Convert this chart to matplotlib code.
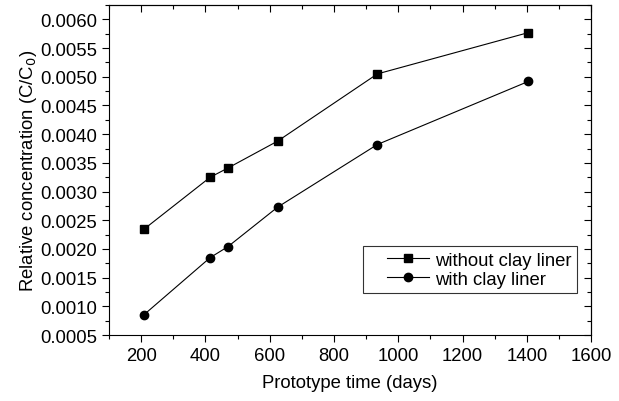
import matplotlib.pyplot as plt
import numpy as np
from matplotlib.ticker import MultipleLocator, FormatStrFormatter
from matplotlib.legend_handler import HandlerLine2D
from matplotlib.lines import Line2D

plt.rcParams['font.family'] = ['Liberation Sans', 'DejaVu Sans']

# data
time_days = [208, 415, 470, 625, 935, 1405]
without_liner = [0.00234, 0.00325, 0.00341, 0.00388, 0.00505, 0.00577]
with_liner = [0.00085, 0.00185, 0.00204, 0.00273, 0.00382, 0.00492]

fs = 13.3

fig = plt.figure(figsize=(6.19, 4.02), dpi=100)
ax = fig.add_axes([0.176, 0.164, 0.779, 0.821])

ax.plot(time_days, without_liner, color='black', lw=0.8, marker='s', markersize=5.5,
        label='without clay liner')
ax.plot(time_days, with_liner, color='black', lw=0.8, marker='o', markersize=6,
        label='with clay liner')

ax.set_xlim(100, 1600)
ax.set_ylim(0.0005, 0.00625)
ax.xaxis.set_major_locator(MultipleLocator(200))
ax.xaxis.set_minor_locator(MultipleLocator(100))
ax.yaxis.set_major_locator(MultipleLocator(0.0005))
ax.yaxis.set_minor_locator(MultipleLocator(0.00025))
ax.yaxis.set_major_formatter(FormatStrFormatter('%.4f'))
ax.tick_params(which='both', direction='out', labelsize=fs, width=0.8)
ax.tick_params(which='major', length=5)
ax.tick_params(which='minor', length=3)

# mirrored ticks on top/right pointing inward
top = ax.secondary_xaxis('top')
top.xaxis.set_major_locator(MultipleLocator(200))
top.xaxis.set_minor_locator(MultipleLocator(100))
top.tick_params(which='both', direction='in', labeltop=False, width=0.8)
top.tick_params(which='major', length=5)
top.tick_params(which='minor', length=3)
right = ax.secondary_yaxis('right')
right.yaxis.set_major_locator(MultipleLocator(0.0005))
right.yaxis.set_minor_locator(MultipleLocator(0.00025))
right.tick_params(which='both', direction='in', labelright=False, width=0.8)
right.tick_params(which='major', length=5)
right.tick_params(which='minor', length=3)

ax.set_xlabel('Prototype time (days)', fontsize=fs, labelpad=7)
ax.set_ylabel('Relative concentration (C/C$_0$)', fontsize=fs, labelpad=1)

leg = ax.legend(loc='lower right', bbox_to_anchor=(0.97, 0.127), fontsize=fs,
                frameon=True, fancybox=False, edgecolor='black', handlelength=3.3,
                borderpad=0.3, labelspacing=0.1, handletextpad=0.3, borderaxespad=0,
                handler_map={Line2D: HandlerLine2D(xpad=1.0)})
leg.get_frame().set_linewidth(0.8)

fig.savefig('out.png', dpi=100)
